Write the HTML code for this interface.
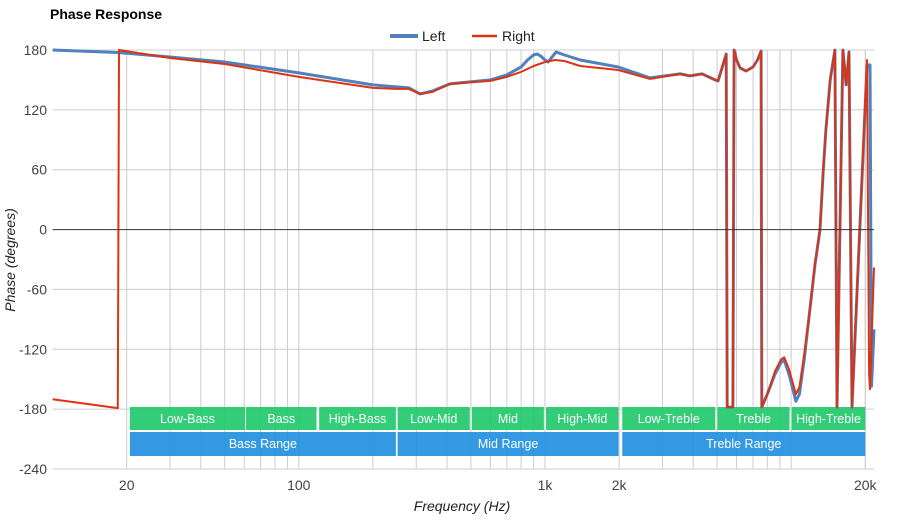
<!DOCTYPE html>
<html><head><meta charset="utf-8"><style>
body{margin:0;background:#fff;font-family:"Liberation Sans",Arial,sans-serif}
svg text{font-family:"Liberation Sans",Arial,sans-serif}
</style></head><body>
<svg id="chart" width="900" height="520" xmlns="http://www.w3.org/2000/svg">
<rect width="900" height="520" fill="#fff"/>
<text x="50" y="19" font-size="14" font-weight="bold" fill="#000">Phase Response</text>
<g>
<g><line x1="390" y1="36" x2="418" y2="36" stroke="#4f81bd" stroke-width="4"/><text x="422" y="41" font-size="14" fill="#222">Left</text></g>
<g><line x1="472" y1="36" x2="497" y2="36" stroke="#dd3311" stroke-width="2.5"/><text x="502" y="41" font-size="14" fill="#222">Right</text></g>
</g>
<g id="grid"></g>
<g id="bands"></g>
<g id="series"></g>
<g id="axes"></g>
<text x="462" y="511" font-size="14" font-style="italic" fill="#222" text-anchor="middle">Frequency (Hz)</text>
<text transform="translate(15,260) rotate(-90)" font-size="14" font-style="italic" fill="#222" text-anchor="middle">Phase (degrees)</text>
</svg>
<script>
const yTicks=[180,120,60,0,-60,-120,-180,-240];
const xTickVals=[20,100,1000,2000,20000];
const xTickLabels=["20","100","1k","2k","20k"];
const leftFreq=[10,18.4,30,50,100,200,250,280,311,350,411,600,700,800,850,898,930,960,1000,1030,1060,1110,1200,1390,1983,2673,3540,3880,4345,4909,5050,5445,5500,5800,5862,6000,6200,6561,7000,7300,7551,7600,8000,8600,9100,9370,9800,10450,10800,11300,11920,12500,13100,13500,13840,14400,15060,15350,16230,16710,17180,17670,20330,20900,21200,21700];
const leftPhase=[180,177.5,173,168,157,145,143,142,136,139,146,150,155,163,170,175,176,174,170,168,172,178,175,170,163,152,156,154,156,150,149,176,-178,-178,180,170,162,159,163,170,179,-178,-165,-145,-133,-131,-145,-172,-165,-130,-80,-35,0,60,100,150,180,-178,180,145,178,-178,165,165,-157,-100];
const rightFreq=[10,18.4,18.6,30,50,100,200,250,280,311,350,411,600,700,800,900,1000,1100,1200,1390,1983,2673,3540,3880,4345,4909,5050,5445,5500,5800,5862,6000,6200,6561,7000,7300,7551,7600,8000,8600,9100,9370,9800,10450,10800,11300,11920,12500,13100,13500,13840,14400,15060,15350,16230,16710,17180,17670,20330,20720,20900,21700];
const rightPhase=[-170,-179,180,172,166,153,142,141,141,136,138,146,149,153,158,164,168,170,169,164,160,151,156,154,156,150,149,176,-178,-178,180,170,162,159,163,170,179,-178,-165,-142,-130,-128,-140,-165,-158,-125,-80,-35,0,60,100,150,180,-178,180,145,178,-178,170,-145,-160,-38];
const bandNames=["Low-Bass","Bass","High-Bass","Low-Mid","Mid","High-Mid","Low-Treble","Treble","High-Treble"];
const bandLo=[20.6,61,121,252,505,1010,2060,5020,10050];
const bandHi=[60.5,118,248,495,990,1990,4920,9850,20000];
const rangeNames=["Bass Range","Mid Range","Treble Range"];
const rangeLo=[20.6,252,2060];
const rangeHi=[248,1990,20000];

const NS="http://www.w3.org/2000/svg";
const X0=52.6,X1=874,Y0=50,Y1=469,FMIN=10,FMAX=21700,DMAX=180,DMIN=-240;
const xs=f=>X0+(Math.log10(f)-Math.log10(FMIN))/(Math.log10(FMAX)-Math.log10(FMIN))*(X1-X0);
const ys=d=>Y0+(DMAX-d)/(DMAX-DMIN)*(Y1-Y0);
function mk(tag,attrs,parent){const e=document.createElementNS(NS,tag);for(const k in attrs)e.setAttribute(k,attrs[k]);parent.appendChild(e);return e;}
const grid=document.getElementById('grid'),axes=document.getElementById('axes'),bands=document.getElementById('bands'),series=document.getElementById('series');
for(let dec=10;dec<=10000;dec*=10){for(let m=1;m<=9;m++){const f=dec*m;if(f<FMIN||f>20000)continue;if(f===10)continue;
const l=mk('line',{x1:xs(f),x2:xs(f),y1:Y0,y2:Y1,stroke:'#cccccc','stroke-width':1},grid);

}}
const l20=mk('line',{x1:xs(20000),x2:xs(20000),y1:Y0,y2:Y1,stroke:'#cccccc'},grid);
yTicks.forEach(t=>{const y=ys(t);
const g=mk('line',{x1:X0,x2:X1,y1:y,y2:y,stroke:t===0?'#333':'#cccccc','stroke-width':1},t===0?axes:grid);


const tx=mk('text',{x:47,y:y+5,'font-size':14,fill:'#444','text-anchor':'end'},axes);tx.textContent=t;

});
xTickVals.forEach((v,i)=>{const tx=mk('text',{x:xs(v),y:490,'font-size':14,fill:'#444','text-anchor':'middle'},axes);tx.textContent=xTickLabels[i];

});
bandNames.forEach((n,i)=>{const a=xs(bandLo[i]),b=xs(bandHi[i]);
const r=mk('rect',{x:a,y:407,width:b-a,height:23,fill:'#22c96c','fill-opacity':0.92},bands);


const t=mk('text',{x:(a+b)/2,y:423,'font-size':12.5,fill:'#fff','text-anchor':'middle'},bands);t.textContent=n;

});
rangeNames.forEach((n,i)=>{const a=xs(rangeLo[i]),b=xs(rangeHi[i]);
const r=mk('rect',{x:a,y:432,width:b-a,height:24,fill:'#2290e0','fill-opacity':0.92},bands);


const t=mk('text',{x:(a+b)/2,y:448,'font-size':12.5,fill:'#fff','text-anchor':'middle'},bands);t.textContent=n;

});
function line(fr,ph,color,w,name){const pts=fr.map((f,i)=>xs(f).toFixed(1)+','+ys(ph[i]).toFixed(1)).join(' ');
const p=mk('polyline',{points:pts,fill:'none',stroke:color,'stroke-width':w,'stroke-linejoin':'round'},series);

}
line(leftFreq,leftPhase,'#4f81bd',3,'left-series');
line(rightFreq,rightPhase,'#dd3311',2,'right-series');
const ax=mk('line',{x1:X0,x2:X1,y1:Y1,y2:Y1,stroke:'#ccc'},axes);
</script>
</body></html>
